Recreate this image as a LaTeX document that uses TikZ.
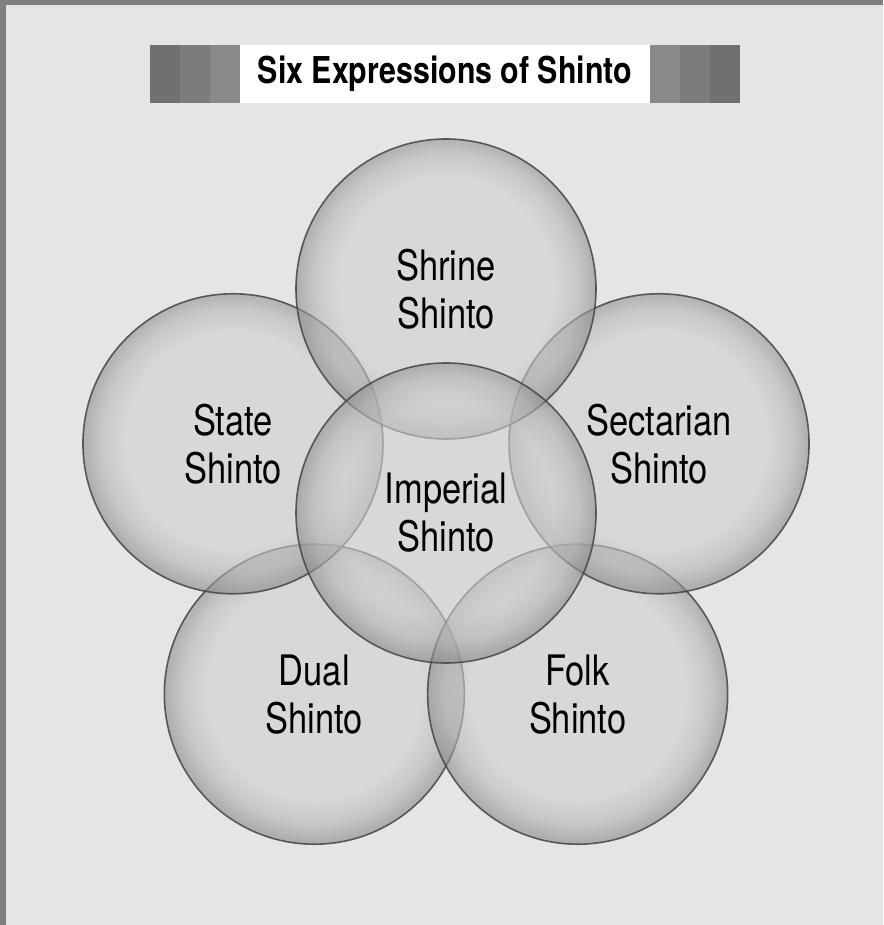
\documentclass[tikz,border=0pt]{standalone}
\usepackage{fontspec}
\setmainfont{TeX Gyre Heros}[FakeStretch=0.82]
\usepackage{tikz}
\usetikzlibrary{positioning, calc}
\definecolor{pagebg}{HTML}{E5E5E5}
\definecolor{framegray}{HTML}{7F7F7F}
\definecolor{rimline}{HTML}{444444}
\definecolor{bubin}{HTML}{D0D0D0}
\definecolor{bubmid}{HTML}{B4B4B4}
\definecolor{bubrim}{HTML}{8A8A8A}
\definecolor{stripeA}{HTML}{707070}
\definecolor{stripeB}{HTML}{7C7C7C}
\definecolor{stripeC}{HTML}{898989}
% the circle's edge sits at 25bp of the shading
\pgfdeclareradialshading{bubble}{\pgfpoint{0bp}{1bp}}{color(0bp)=(bubin); color(18bp)=(bubin); color(22bp)=(bubmid); color(25bp)=(bubrim); color(50bp)=(bubrim)}
\tikzstyle{bubble} = [circle,
minimum size=300pt,
inner sep=0pt,
shading=bubble,
fill opacity=0.6,
text opacity=1,
draw=rimline,
draw opacity=0.85,
line width=1.6pt,
align=center,
font=\fontsize{42}{48}\selectfont]
\tikzstyle{titlebox} = [rectangle,
minimum width=410pt,
minimum height=58pt,
inner sep=0pt,
fill=white,
font=\bfseries\fontsize{37}{40}\selectfont]

\begin{document}
\begin{tikzpicture}[x=1pt, y=1pt]
    % page and frame
    \fill[pagebg] (0,0) rectangle (883,925);
    \fill[framegray] (0,920) rectangle (883,925);
    \fill[framegray] (0,0) rectangle (6,925);

    % title bar
    \node (title) [titlebox] at (445,851) {Six Expressions of Shinto};
    \foreach \i/\c in {0/stripeA, 1/stripeB, 2/stripeC} {
        \fill[\c] ($(title.south west)+(-90+30*\i,0)$) rectangle ++(30,58);
        \fill[\c] ($(title.south east)+(60-30*\i,0)$) rectangle ++(30,58);
    }

    % circles, lower ones first
    \coordinate (hub) at (446,412);
    \foreach \name/\ang/\txt in {dual/234/Dual, folk/306/Folk,
                                 state/162/State, sect/18/Sectarian,
                                 shrine/90/Shrine} {
        \node (\name) [bubble] at ($(hub)+(\ang:224)$) {\txt\\Shinto};
    }
    \node (imperial) [bubble] at (hub) {Imperial\\Shinto};
\end{tikzpicture}
\end{document}
